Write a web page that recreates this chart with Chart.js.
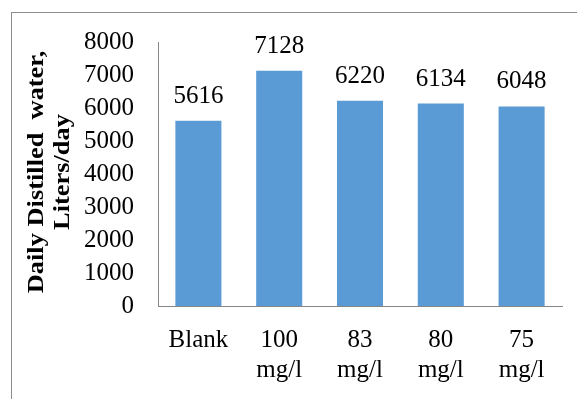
<!DOCTYPE html>
<html>
<head>
<meta charset="utf-8">
<script src="https://cdn.jsdelivr.net/npm/chart.js@4"></script>
<style>
  body { margin: 0; background: #fff; }
  #frame { position: absolute; left: 11px; top: 12px; width: 620px; height: 420px; border: 1px solid #8c8c8c; }
  #chart { position: absolute; left: 0; top: 0; }
</style>
</head>
<body>
<div id="frame"></div>
<canvas id="chart" width="577" height="399"></canvas>
<script>
const categories = [['Blank'], ['100', 'mg/l'], ['83', 'mg/l'], ['80', 'mg/l'], ['75', 'mg/l']];
const distilled = [5616, 7128, 6220, 6134, 6048];
const yTitle = ['Daily Distilled  water,', 'Liters/day'];

const serif = '"Liberation Serif", "Times New Roman", serif';

// value labels above bars
const valueLabels = {
    id: 'valueLabels',
    afterDatasetsDraw(chart) {
        const ctx = chart.ctx;
        const meta = chart.getDatasetMeta(0);
        ctx.save();
        ctx.font = '25px ' + serif;
        ctx.fillStyle = '#000';
        ctx.textAlign = 'center';
        ctx.textBaseline = 'alphabetic';
        meta.data.forEach((bar, i) => {
            ctx.fillText(String(distilled[i]), bar.x, bar.y - 18);
        });
        ctx.restore();
    }
};

// rotated two-line bold axis title
const axisTitle = {
    id: 'axisTitle',
    afterDraw(chart) {
        const ctx = chart.ctx;
        ctx.save();
        ctx.font = 'bold 24px ' + serif;
        ctx.fillStyle = '#000';
        ctx.textAlign = 'center';
        ctx.textBaseline = 'middle';
        const xs = [37, 63];
        yTitle.forEach((line, i) => {
            ctx.save();
            ctx.translate(xs[i], 172);
            ctx.rotate(-Math.PI / 2);
            ctx.scale(1.1, 1);
            ctx.fillText(line, 0, 0);
            ctx.restore();
        });
        ctx.restore();
    }
};

new Chart(document.getElementById('chart'), {
    type: 'bar',
    data: {
        labels: categories,
        datasets: [{
            data: distilled,
            backgroundColor: '#5B9BD5',
            borderWidth: 0,
            categoryPercentage: 1,
            barPercentage: 0.57
        }]
    },
    options: {
        responsive: false,
        animation: false,
        layout: { padding: { top: 42, right: 15, left: 0, bottom: 0 } },
        plugins: { legend: { display: false }, tooltip: { enabled: false } },
        scales: {
            y: {
                min: 0,
                max: 8000,
                ticks: {
                    stepSize: 1000, color: '#000', padding: 24,
                    font: { family: serif, size: 25 },
                    callback: v => String(v)
                },
                grid: { display: false, drawTicks: false },
                border: { display: true, color: '#868686', width: 1 },
                afterFit(scale) { scale.width = 158; }
            },
            x: {
                ticks: { color: '#000', padding: 19, maxRotation: 0, autoSkip: false, font: { family: serif, size: 25, lineHeight: 1.2 } },
                grid: { display: false, drawTicks: false },
                border: { display: true, color: '#868686', width: 1 },
                afterFit(scale) { scale.height = 93; }
            }
        }
    },
    plugins: [valueLabels, axisTitle]
});
</script>
</body>
</html>
